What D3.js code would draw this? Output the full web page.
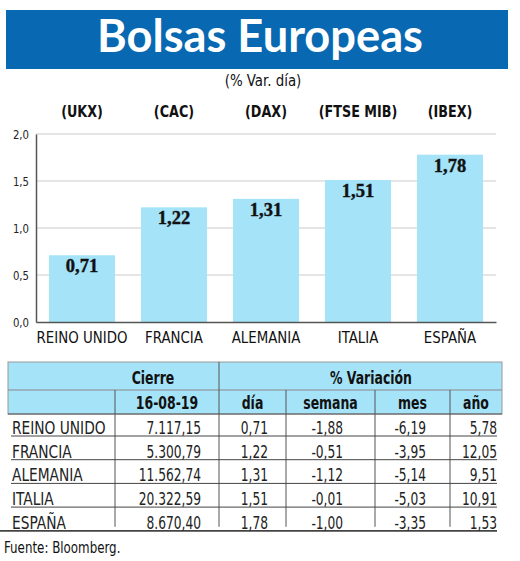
<!DOCTYPE html>
<html>
<head>
<meta charset="utf-8">
<script src="https://cdn.jsdelivr.net/npm/d3@7"></script>
<style>
  body { margin: 0; background: #fff; }
  svg { display: block; }
  .cond { font-family: 'Liberation Sans Narrow', 'DejaVu Sans Condensed', 'Roboto', sans-serif; }
</style>
</head>
<body>
<div id="chart"></div>
<script>
// data
const countries = ['REINO UNIDO', 'FRANCIA', 'ALEMANIA', 'ITALIA', 'ESPAÑA'];
const tickers = ['(UKX)', '(CAC)', '(DAX)', '(FTSE MIB)', '(IBEX)'];
const dayChange = [0.71, 1.22, 1.31, 1.51, 1.78];
const yTicks = [0, 0.5, 1, 1.5, 2];
const closeDate = '16-08-19';
const closeValues = ['7.117,15', '5.300,79', '11.562,74', '20.322,59', '8.670,40'];
const weekChange = ['-1,88', '-0,51', '-1,12', '-0,01', '-1,00'];
const monthChange = ['-6,19', '-3,95', '-5,14', '-5,03', '-3,35'];
const yearChange = ['5,78', '12,05', '9,51', '10,91', '1,53'];

const W = 520, H = 561;
const fmt = v => d3.format('.2f')(v).replace('.', ',');
const fmt1 = v => d3.format('.1f')(v).replace('.', ',');

// narrow the text horizontally, the original uses a condensed face
function squeeze(sel, sx) {
    sel.each(function () {
        const t = d3.select(this);
        const tx = +t.attr('x') || 0, ty = +t.attr('y') || 0;
        t.attr('x', null).attr('y', null)
            .attr('transform', `translate(${tx},${ty}) scale(${sx},1)`);
    });
}

const svg = d3.select('#chart')
    .append('svg')
    .attr('width', W)
    .attr('height', H);

// title bar
svg.append('rect')
    .attr('x', 6).attr('y', 10)
    .attr('width', 502).attr('height', 59)
    .attr('fill', '#0868b1');

svg.append('text')
    .attr('x', 260).attr('y', 52)
    .attr('text-anchor', 'middle')
    .attr('fill', '#fff')
    .attr('font-family', 'Lato, "Open Sans", sans-serif')
    .attr('font-weight', 'bold')
    .attr('font-size', 45)
    .attr('textLength', 326)
    .attr('lengthAdjust', 'spacingAndGlyphs')
    .text('Bolsas Europeas');

svg.append('text')
    .attr('class', 'cond')
    .attr('x', 263).attr('y', 86)
    .attr('text-anchor', 'middle')
    .attr('font-size', 16)
    .attr('fill', '#111')
    .text('(% Var. día)')
    .call(squeeze, 0.93);

// bar chart
const x = d3.scaleBand()
    .domain(countries)
    .range([36, 496])
    .paddingInner(0.283)
    .paddingOuter(0.1415);

const y = d3.scaleLinear()
    .domain([0, 2])
    .range([322, 134]);

// gridlines
svg.append('g')
    .selectAll('line')
    .data(yTicks.filter(d => d > 0))
    .join('line')
    .attr('x1', 36).attr('x2', 496)
    .attr('y1', d => y(d)).attr('y2', d => y(d))
    .attr('stroke', '#dcdcdc')
    .attr('stroke-width', 1.5);

// tickers above
svg.append('g')
    .selectAll('text')
    .data(countries)
    .join('text')
    .attr('class', 'cond')
    .attr('x', d => x(d) + x.bandwidth() / 2)
    .attr('y', 117)
    .attr('text-anchor', 'middle')
    .attr('font-size', 16.5)
    .attr('font-weight', 'bold')
    .attr('fill', '#111')
    .text((d, i) => tickers[i])
    .call(squeeze, 0.86);

// bars
svg.append('g')
    .selectAll('rect')
    .data(dayChange)
    .join('rect')
    .attr('x', (d, i) => x(countries[i]))
    .attr('y', d => y(d))
    .attr('width', x.bandwidth())
    .attr('height', d => y(0) - y(d))
    .attr('fill', '#a5e3f9');

svg.append('g')
    .selectAll('text')
    .data(dayChange)
    .join('text')
    .attr('x', (d, i) => x(countries[i]) + x.bandwidth() / 2)
    .attr('y', d => y(d) + 17)
    .attr('text-anchor', 'middle')
    .attr('font-family', '"Liberation Serif", "DejaVu Serif", serif')
    .attr('font-weight', 'bold')
    .attr('font-size', 18.5)
    .attr('fill', '#111')
    .attr('stroke', '#111')
    .attr('stroke-width', 0.4)
    .text(d => fmt(d));

// y axis
const yAxis = svg.append('g')
    .attr('transform', 'translate(36,0)')
    .call(d3.axisLeft(y).tickValues(yTicks).tickSize(0).tickPadding(7).tickFormat(fmt1));
yAxis.select('.domain').attr('stroke', '#555').attr('stroke-width', 1.5);
yAxis.selectAll('text')
    .attr('class', 'cond')
    .attr('font-size', 12.5)
    .attr('fill', '#222')
    .call(squeeze, 0.9);

// x axis
const xAxis = svg.append('g')
    .attr('transform', `translate(0,${y(0)})`)
    .call(d3.axisBottom(x).tickSize(0).tickPadding(9));
xAxis.select('.domain').attr('stroke', '#555').attr('stroke-width', 1.5);
xAxis.selectAll('text')
    .attr('class', 'cond')
    .attr('font-size', 16.5)
    .attr('fill', '#111')
    .call(squeeze, 0.9);

// table
const colEdges = [8, 115, 219, 286, 375, 450, 502];
const rowTop = 414, rowH = 23.7;
const rowY = d3.range(countries.length).map(i => rowTop + i * rowH);
const lineY = rowY.map(d => d + 22);

svg.append('rect')
    .attr('x', 8).attr('y', 362)
    .attr('width', 494).attr('height', 52)
    .attr('fill', '#a5e3f9')
    .attr('stroke', '#999')
    .attr('stroke-width', 1);

svg.append('line')
    .attr('x1', 8).attr('x2', 502)
    .attr('y1', 390).attr('y2', 390)
    .attr('stroke', '#888');
svg.append('line')
    .attr('x1', 8).attr('x2', 502)
    .attr('y1', 414).attr('y2', 414)
    .attr('stroke', '#555');

// vertical dividers
const bottom = lineY[lineY.length - 1] - 4;
svg.append('line')
    .attr('x1', 219).attr('x2', 219)
    .attr('y1', 362).attr('y2', bottom)
    .attr('stroke', '#555');
svg.append('g')
    .selectAll('line')
    .data([115, 286, 375, 450])
    .join('line')
    .attr('x1', d => d).attr('x2', d => d)
    .attr('y1', 390).attr('y2', bottom)
    .attr('stroke', '#555');

// row underlines
svg.append('g')
    .selectAll('line')
    .data(lineY)
    .join('line')
    .attr('x1', (d, i) => i === lineY.length - 1 ? 0 : 11)
    .attr('x2', 497)
    .attr('y1', d => d)
    .attr('y2', d => d)
    .attr('stroke', '#444')
    .attr('stroke-width', (d, i) => i === lineY.length - 1 ? 1.8 : 1);

// headers
const head = svg.append('g')
    .attr('class', 'cond')
    .attr('font-size', 18)
    .attr('font-weight', 'bold')
    .attr('text-anchor', 'middle')
    .attr('fill', '#111');
head.append('text').attr('x', 153).attr('y', 384).text('Cierre');
head.append('text').attr('x', 371).attr('y', 384).text('% Variación');
const subHeads = [closeDate, 'día', 'semana', 'mes', 'año'];
head.selectAll('text.sub')
    .data(subHeads)
    .join('text')
    .attr('class', 'sub')
    .attr('x', (d, i) => (colEdges[i + 1] + colEdges[i + 2]) / 2)
    .attr('y', 409)
    .text(d => d);
head.selectAll('text').call(squeeze, 0.77);

// rows
const cols = [
    { vals: countries, x: 12, anchor: 'start', sx: 0.9 },
    { vals: closeValues, x: 201, anchor: 'end', sx: 0.8 },
    { vals: dayChange.map(fmt), x: 268, anchor: 'end', sx: 0.8 },
    { vals: weekChange, x: 343, anchor: 'end', sx: 0.8 },
    { vals: monthChange, x: 426, anchor: 'end', sx: 0.8 },
    { vals: yearChange, x: 497, anchor: 'end', sx: 0.8 }
];
const body = svg.append('g')
    .attr('class', 'cond')
    .attr('font-size', 17)
    .attr('fill', '#222');
cols.forEach(c => {
    body.append('g')
        .selectAll('text')
        .data(c.vals)
        .join('text')
        .attr('x', c.x)
        .attr('y', (d, i) => lineY[i] - 2)
        .attr('text-anchor', c.anchor)
        .text(d => d)
        .call(squeeze, c.sx);
});

svg.append('text')
    .attr('class', 'cond')
    .attr('x', 4).attr('y', 553)
    .attr('font-size', 15)
    .attr('fill', '#111')
    .text('Fuente: Bloomberg.')
    .call(squeeze, 0.88);
</script>
</body>
</html>
